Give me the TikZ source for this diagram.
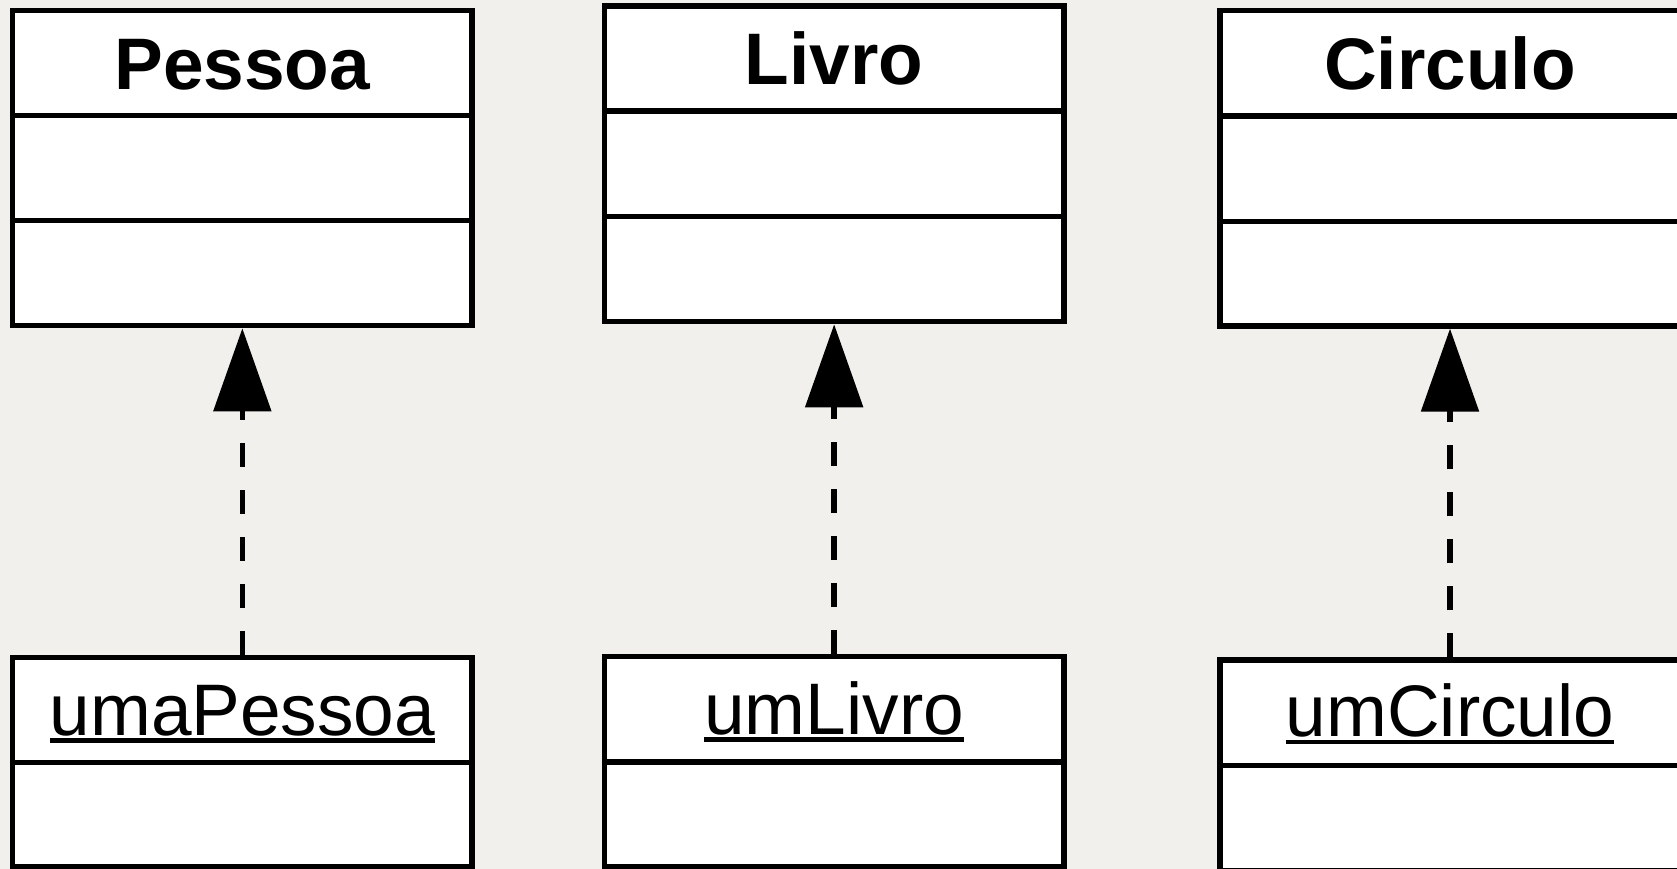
\documentclass[tikz,border=0pt]{standalone}
\usepackage{fontspec}
\setmainfont{Liberation Sans}
\usetikzlibrary{arrows.meta}
\definecolor{bgcol}{RGB}{242,240,237}
\newcommand\myul[1]{\setbox0\hbox{#1}\rlap{\rule[-7.5pt]{\wd0}{4.4pt}}\box0}
\begin{document}
\begin{tikzpicture}[x=1pt,y=-1pt,
  umlbox/.style={draw=black, fill=white, line width=5.3pt, rectangle, inner sep=0pt},
  sepline/.style={line width=5.3pt},
  cname/.style={font=\fontsize{73}{80}\selectfont\bfseries, inner sep=0pt, anchor=base},
  oname/.style={font=\fontsize{73}{80}\selectfont, inner sep=0pt, anchor=base},
  realize/.style={line width=5.5pt, dash pattern=on 24pt off 23pt, -{Triangle[length=83pt,width=57pt]}}]
\fill[bgcol] (0,0) rectangle (1677,869);
\useasboundingbox (0,0) rectangle (1677,869);

% classes
\node[umlbox, minimum width=459.3pt, minimum height=315pt] (pessoa) at (242.35,168.2) {};
\draw[sepline] (12.7,115.3) -- (472,115.3);
\draw[sepline] (12.7,220.7) -- (472,220.7);
\node[cname] (pessoaT) at (242.35,89.3) {Pessoa};

\node[umlbox, minimum width=459.7pt, minimum height=315.7pt] (livro) at (834.15,163.85) {};
\draw[sepline] (604.3,111) -- (1064,111);
\draw[sepline] (604.3,216.7) -- (1064,216.7);
\node[cname] (livroT) at (834.15,85) {Livro};

\node[umlbox, minimum width=460pt, minimum height=315.3pt] (circulo) at (1450,168.35) {};
\draw[sepline] (1220,116) -- (1680,116);
\draw[sepline] (1220,221.3) -- (1680,221.3);
\node[cname] (circuloT) at (1450,89.3) {Circulo};

% objects
\node[umlbox, minimum width=459.3pt, minimum height=209.7pt] (upessoa) at (242.35,762.15) {};
\draw[sepline] (12.7,762.3) -- (472,762.3);
\node[oname] (upessoaT) at (242.35,735) {\myul{umaPessoa}};

\node[umlbox, minimum width=459.7pt, minimum height=209.8pt] (ulivro) at (834.15,761.6) {};
\draw[sepline] (604.3,762) -- (1064,762);
\node[oname] (ulivroT) at (834.15,734.3) {\myul{umLivro}};

\node[umlbox, minimum width=460pt, minimum height=210.6pt] (ucirculo) at (1450,765.3) {};
\draw[sepline] (1220,765.3) -- (1680,765.3);
\node[oname] (ucirculoT) at (1450,736.7) {\myul{umCirculo}};

% realizations
\draw[realize] (upessoa.north) -- (pessoa.south);
\draw[realize] (ulivro.north) -- (livro.south);
\draw[realize] (ucirculo.north) -- (circulo.south);
\end{tikzpicture}
\end{document}
